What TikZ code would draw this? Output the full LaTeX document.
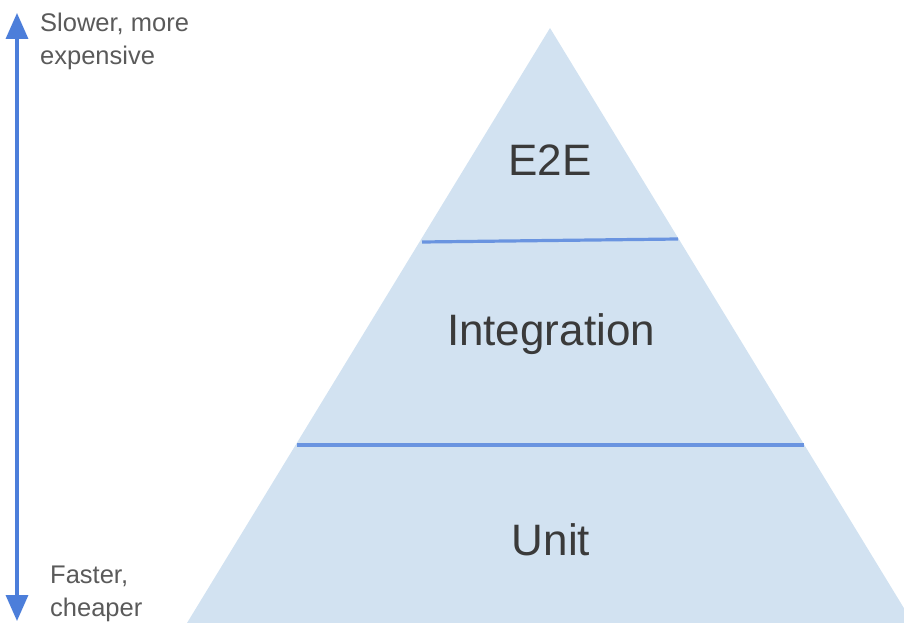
\documentclass[tikz,border=0pt]{standalone}
\usepackage{fontspec}
\setmainfont{Liberation Sans}
\usetikzlibrary{arrows.meta}
\definecolor{pyrfill}{HTML}{D2E2F1}
\definecolor{sepline}{HTML}{6A94E0}
\definecolor{arrowcol}{HTML}{4C7EDA}
\definecolor{smalltxt}{HTML}{5A5A5A}
\definecolor{bigtxt}{HTML}{3A3A3A}
\begin{document}
\begin{tikzpicture}[x=1pt,y=-1pt,
  layerlabel/.style={font=\fontsize{44}{48}\selectfont, text=bigtxt, inner sep=0pt},
  sidelabel/.style={font=\fontsize{25.5}{32.5}\selectfont, text=smalltxt, align=left, anchor=north west, inner sep=0pt},
  separator/.style={draw=sepline, line width=3.2pt},
  scalearrow/.style={draw=arrowcol, line width=3.5pt, {Triangle[width=22pt,length=26pt]}-{Triangle[width=22pt,length=26pt]}}]
\useasboundingbox (0,0) rectangle (904,623);
\clip (0,0) rectangle (904,623);
\coordinate (apex) at (550,28);
\coordinate (bl) at (187,623);
\coordinate (br) at (913,623);
\fill[pyrfill] (apex) -- (bl) -- (br) -- cycle;
\coordinate (s1l) at (422,242);
\coordinate (s1r) at (678,239);
\coordinate (s2l) at (297,445);
\coordinate (s2r) at (804,445);
\draw[separator] (s1l) -- (s1r);
\draw[separator] (s2l) -- (s2r);
\node[layerlabel] (e2e) at (550,160) {E2E};
\node[layerlabel] (integ) at (551,334) {Integration};
\node[layerlabel] (unit) at (551,540) {Unit};
\coordinate (atop) at (17,13);
\coordinate (abot) at (17,621);
\draw[scalearrow] (atop) -- (abot);
\node[sidelabel] (slow) at (40,13) {Slower, more\\expensive};
\node[sidelabel] (fast) at (50,566) {Faster,\\cheaper};
\end{tikzpicture}
\end{document}
